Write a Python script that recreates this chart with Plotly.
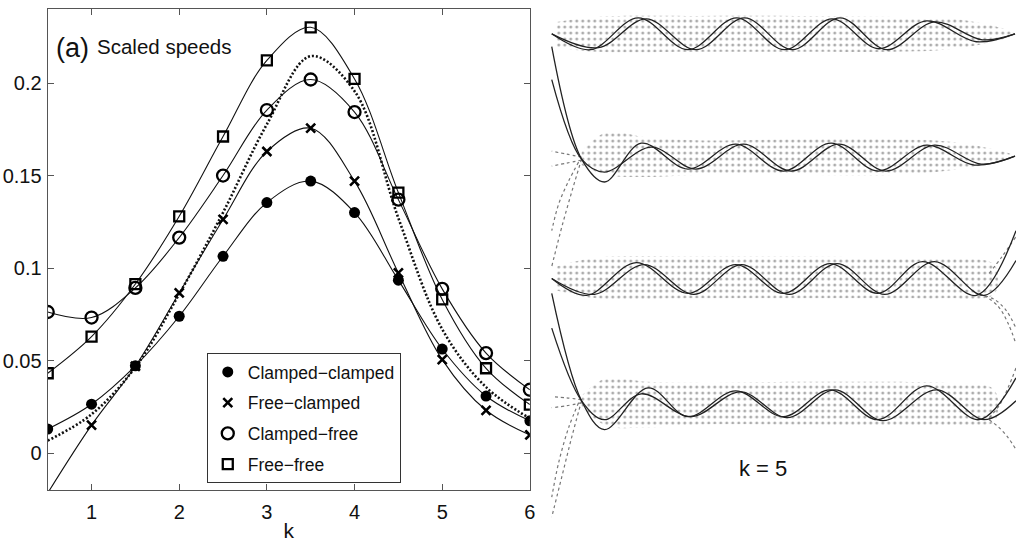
import plotly.graph_objects as go

FONT = "Liberation Sans, Arial, Helvetica, sans-serif"

# ---------------- Left panel data: scaled speeds vs k ----------------
k = [0.5, 1.0, 1.5, 2.0, 2.5, 3.0, 3.5, 4.0, 4.5, 5.0, 5.5, 6.0]
clamped_clamped = [0.0131, 0.0265, 0.0472, 0.0740, 0.1064, 0.1354, 0.1470, 0.1300, 0.0935, 0.0563, 0.0309, 0.0175]
free_clamped = [None, 0.0152, 0.0470, 0.0866, 0.1263, 0.1630, 0.1756, 0.1470, 0.0974, 0.0506, 0.0232, 0.0099]
free_clamped_curve = [-0.0215, 0.0152, 0.0470, 0.0866, 0.1263, 0.1630, 0.1756, 0.1470, 0.0974, 0.0506, 0.0232, 0.0099]
clamped_free = [0.0763, 0.0733, 0.0893, 0.1165, 0.1500, 0.1854, 0.2019, 0.1843, 0.1370, 0.0888, 0.0541, 0.0343]
free_free = [0.0432, 0.0630, 0.0914, 0.1280, 0.1711, 0.2122, 0.2301, 0.2022, 0.1408, 0.0831, 0.0459, 0.0263]
dotted_ref = [0.0068, 0.0210, 0.0465, 0.0860, 0.1300, 0.1777, 0.2145, 0.1956, 0.1270, 0.0670, 0.0357, 0.0188]

series_names = ["Clamped\u2212clamped", "Free\u2212clamped", "Clamped\u2212free", "Free\u2212free"]
x_ticks = [1, 2, 3, 4, 5, 6]
y_ticks = [0, 0.05, 0.1, 0.15, 0.2]
y_ticktext = ["0", "0.05", "0.1", "0.15", "0.2"]

r1a_x = [555, 594, 642, 692, 741, 789, 837, 884, 932, 982, 1021]
r1a_y = [34, 50, 18, 50, 18, 50, 19, 49, 21, 42, 34]
r1b_x = [555, 602, 650, 700, 749, 797, 845, 892, 940, 988, 1021]
r1b_y = [34, 48, 19, 50, 18, 50, 18, 50, 22, 40, 34]

r2a_x = [555, 585, 608, 645, 692, 740, 788, 836, 883, 932, 980, 1021]
r2a_y = [47, 160, 183, 144, 170, 145, 172, 144, 172, 146, 166, 157]
r2b_x = [555, 585, 608, 655, 700, 748, 796, 844, 891, 940, 987, 1021]
r2b_y = [80, 160, 173, 148, 170, 145, 172, 145, 172, 146, 165, 157]

r3a_x = [555, 590, 640, 692, 740, 788, 835, 883, 928, 982, 1022]
r3a_y = [280, 297, 264, 295, 266, 295, 265, 295, 263, 297, 232]
r3b_x = [555, 598, 648, 698, 746, 794, 842, 890, 940, 990, 1022]
r3b_y = [280, 296, 266, 296, 266, 296, 265, 296, 263, 297, 262]

r4a_x = [555, 585, 608, 652, 692, 740, 788, 835, 883, 932, 985, 1022]
r4a_y = [295, 403, 432, 390, 419, 393, 419, 392, 422, 388, 422, 380]
r4b_x = [555, 585, 608, 645, 695, 745, 792, 840, 888, 942, 990, 1022]
r4b_y = [330, 403, 422, 396, 419, 394, 420, 392, 423, 392, 422, 403]

# stippled (dotted) envelopes of the transient profiles
band1_x = [560, 600, 700, 800, 900, 950, 990, 1020, 990, 950, 900, 800, 700, 600, 560]
band1_y = [22, 17, 16, 16, 17, 18, 24, 34, 44, 50, 52, 52, 52, 52, 48]
band2_x = [585, 610, 650, 700, 800, 900, 950, 990, 1020, 990, 950, 900, 800, 700, 650, 610, 585]
band2_y = [152, 133, 138, 141, 140, 140, 142, 148, 157, 166, 172, 176, 176, 176, 178, 176, 166]
band3_x = [560, 600, 700, 800, 900, 950, 1000, 1000, 950, 900, 800, 700, 600, 560]
band3_y = [268, 259, 258, 258, 259, 260, 266, 296, 300, 300, 300, 300, 300, 292]
band4_x = [585, 610, 650, 700, 800, 900, 950, 1000, 1000, 950, 900, 800, 700, 650, 610, 585]
band4_y = [398, 380, 384, 385, 384, 384, 385, 392, 424, 428, 428, 427, 427, 430, 428, 410]

hooks = [
    ([585, 576, 566, 555], [160, 190, 225, 268]),
    ([582, 572, 562, 555], [163, 182, 205, 232]),
    ([585, 570, 555], [158, 155, 152]),
    ([585, 570, 555], [161, 164, 167]),
    ([985, 1000, 1012, 1022], [296, 301, 312, 330]),
    ([990, 1004, 1014, 1022], [297, 308, 325, 346]),
    ([995, 1008, 1022], [275, 258, 238]),
    ([585, 575, 565, 555], [403, 440, 480, 520]),
    ([582, 572, 562, 555], [405, 430, 465, 500]),
    ([585, 570, 555], [402, 400, 399]),
    ([585, 570, 555], [405, 408, 410]),
    ([995, 1005, 1014, 1022], [420, 408, 390, 370]),
    ([995, 1005, 1014, 1022], [422, 430, 440, 452]),
]

fig = go.Figure()

# ---- left panel traces ----
fig.add_trace(go.Scatter(x=k, y=dotted_ref, mode="lines", line=dict(color="#111", width=2.6, dash="2px,2px", shape="spline"),
                         showlegend=False, hoverinfo="skip"))
for ys in [clamped_clamped, free_clamped_curve, clamped_free, free_free]:
    fig.add_trace(go.Scatter(x=k, y=ys, mode="lines", line=dict(color="#111", width=1.1, shape="spline", smoothing=1.0),
                             showlegend=False, hoverinfo="skip", cliponaxis=True))

marker_styles = [
    dict(symbol="circle", size=11, color="#000", line=dict(width=0)),
    dict(symbol="x-thin", size=9, color="#000", line=dict(width=2.6, color="#000")),
    dict(symbol="circle-open", size=12, color="#000", line=dict(width=2.3, color="#000")),
    dict(symbol="square-open", size=10, color="#000", line=dict(width=2.3, color="#000")),
]
for name, ys, ms in zip(series_names, [clamped_clamped, free_clamped, clamped_free, free_free], marker_styles):
    fig.add_trace(go.Scatter(x=k, y=ys, mode="markers", name=name, marker=ms, legendgroup=name))

# ---- right panel traces ----
for bx, by in [(band1_x, band1_y), (band2_x, band2_y), (band3_x, band3_y), (band4_x, band4_y)]:
    fig.add_trace(go.Scatter(x=bx, y=by, xaxis="x2", yaxis="y2", mode="lines", fill="toself",
                             line=dict(width=0, color="rgba(0,0,0,0)", shape="spline"),
                             fillcolor="rgba(255,255,255,0)",
                             fillpattern=dict(shape=".", size=6, solidity=0.2, fgcolor="#5a5a5a", bgcolor="rgba(255,255,255,0)"),
                             showlegend=False, hoverinfo="skip"))
for hx, hy in hooks:
    fig.add_trace(go.Scatter(x=hx, y=hy, xaxis="x2", yaxis="y2", mode="lines",
                             line=dict(color="#777", width=1.2, dash="dot", shape="spline"),
                             showlegend=False, hoverinfo="skip"))
for wx, wy in [(r1a_x, r1a_y), (r1b_x, r1b_y), (r2a_x, r2a_y), (r2b_x, r2b_y),
               (r3a_x, r3a_y), (r3b_x, r3b_y), (r4a_x, r4a_y), (r4b_x, r4b_y)]:
    fig.add_trace(go.Scatter(x=wx, y=wy, xaxis="x2", yaxis="y2", mode="lines",
                             line=dict(color="#222", width=1.3, shape="spline", smoothing=1.0),
                             showlegend=False, hoverinfo="skip"))

W, H = 1022, 542
axis_common = dict(showline=True, linecolor="#555", linewidth=1.2, mirror="ticks", ticks="inside",
                   ticklen=6, tickcolor="#555", showgrid=False, zeroline=False,
                   tickfont=dict(family=FONT, size=20, color="#111"))

fig.update_layout(
    width=W, height=H,
    margin=dict(l=0, r=0, t=0, b=0),
    paper_bgcolor="white", plot_bgcolor="white",
    font=dict(family=FONT, color="#111"),
    xaxis=dict(domain=[48 / W, 533 / W], range=[0.5, 6], tickvals=x_ticks,
               title=dict(text="k", font=dict(family=FONT, size=21), standoff=4),
               ticklabelstandoff=4, **axis_common),
    yaxis=dict(domain=[1 - 493 / H, 1 - 9 / H], range=[-0.02, 0.24], tickvals=y_ticks, ticktext=y_ticktext,
               ticklabelstandoff=1, **axis_common),
    xaxis2=dict(domain=[553 / W, 1], range=[553, 1022], visible=False, anchor="y2"),
    yaxis2=dict(domain=[0, 1], range=[542, 0], visible=False, anchor="x2"),
    legend=dict(x=208 / W, y=1 - 355 / H, xanchor="left", yanchor="top",
                bgcolor="white", bordercolor="#333", borderwidth=1,
                font=dict(family=FONT, size=17.5, color="#111"), tracegroupgap=5,
                itemsizing="trace"),
    annotations=[
        dict(text="(a)", x=54 / W, y=1 - 48 / H, xref="paper", yref="paper", xanchor="left", yanchor="middle",
             showarrow=False, font=dict(family=FONT, size=27, color="#111")),
        dict(text="Scaled speeds", x=96 / W, y=1 - 47 / H, xref="paper", yref="paper", xanchor="left", yanchor="middle",
             showarrow=False, font=dict(family=FONT, size=20.5, color="#111")),
        dict(text="k = 5", x=768 / W, y=1 - 471 / H, xref="paper", yref="paper", xanchor="center", yanchor="middle",
             showarrow=False, font=dict(family=FONT, size=22, color="#111")),
    ],
)

fig.write_html("out.html")
